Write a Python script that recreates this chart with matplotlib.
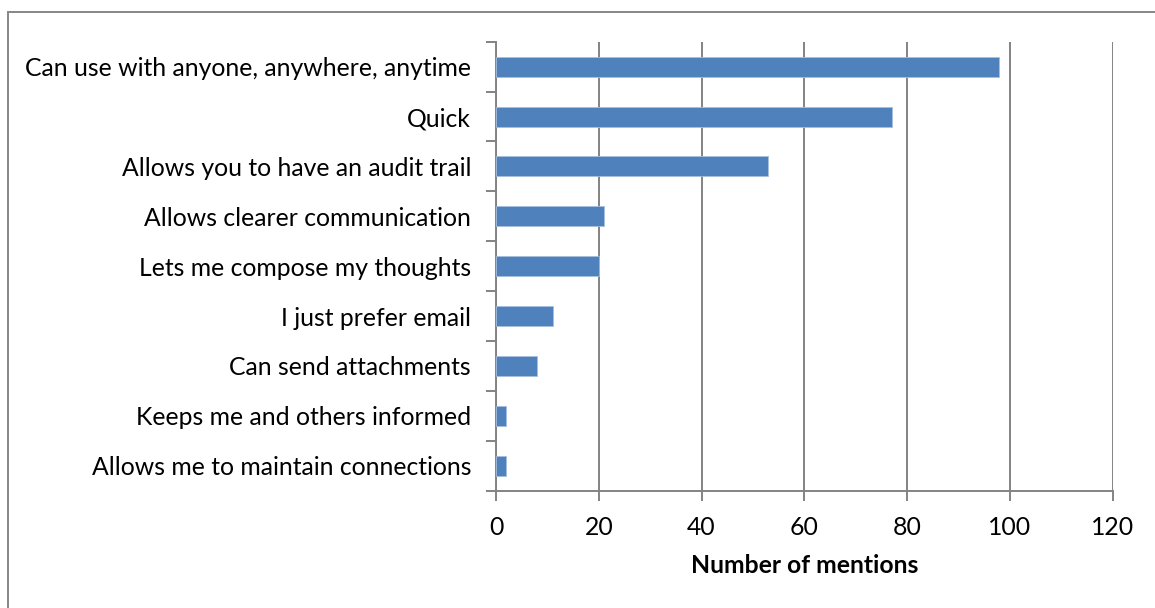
import matplotlib
matplotlib.use("Agg")
import matplotlib.pyplot as plt
from matplotlib.patches import Rectangle
import numpy as np

categories = [
    "Can use with anyone, anywhere, anytime",
    "Quick",
    "Allows you to have an audit trail",
    "Allows clearer communication",
    "Lets me compose my thoughts",
    "I just prefer email",
    "Can send attachments",
    "Keeps me and others informed",
    "Allows me to maintain connections",
]
mentions = [98, 77, 53, 21, 20, 11, 8, 2, 2]
x_ticks = [0, 20, 40, 60, 80, 100, 120]
x_label = "Number of mentions"

plt.rcParams["font.family"] = ["Lato", "DejaVu Sans"]
FS = 17.8

W, H = 1155, 608
fig = plt.figure(figsize=(W / 100, H / 100), dpi=100)
fig.patch.set_facecolor("white")

# chart-area border (runs off the right and bottom edges)
fig.patches.append(Rectangle((8 / W, -0.05), 1.2, 1 - 12 / H + 0.05,
                             transform=fig.transFigure, fill=False,
                             edgecolor="#868686", linewidth=1.4))

left, right, top, bottom = 496, 1112.5, 41.7, 490.7
ax = fig.add_axes([left / W, 1 - bottom / H, (right - left) / W, (bottom - top) / H])

n = len(categories)
pos = np.arange(n)
ax.barh(pos, mentions, height=0.4, color="#4F81BD", edgecolor="#A7BFDE",
        linewidth=0.6, zorder=3)

ax.set_xlim(0, 120)
ax.set_ylim(n - 0.5, -0.5)

ax.set_xticks(x_ticks)
ax.set_xticklabels([str(t) for t in x_ticks])
ax.xaxis.grid(True, color="#838383", linewidth=1.4, zorder=0)
ax.yaxis.grid(False)

# boundary ticks between categories, labels at category centres
ax.set_yticks(np.arange(n + 1) - 0.5)
ax.set_yticklabels([])
ax.set_yticks(pos, minor=True)
ax.set_yticklabels(categories, minor=True)
ax.tick_params(axis="y", which="major", length=7, width=1.4, color="#838383")
ax.tick_params(axis="y", which="minor", length=0, pad=18, labelsize=FS,
               labelcolor="#000000")
ax.tick_params(axis="x", which="major", length=7, width=1.4, color="#838383",
               pad=11, labelsize=FS, labelcolor="#000000")

for s in ["top", "right"]:
    ax.spines[s].set_visible(False)
for s in ["left", "bottom"]:
    ax.spines[s].set_color("#838383")
    ax.spines[s].set_linewidth(1.4)

ax.set_xlabel(x_label, fontsize=FS, fontweight="bold", labelpad=11)

fig.savefig("out.png", dpi=100)
